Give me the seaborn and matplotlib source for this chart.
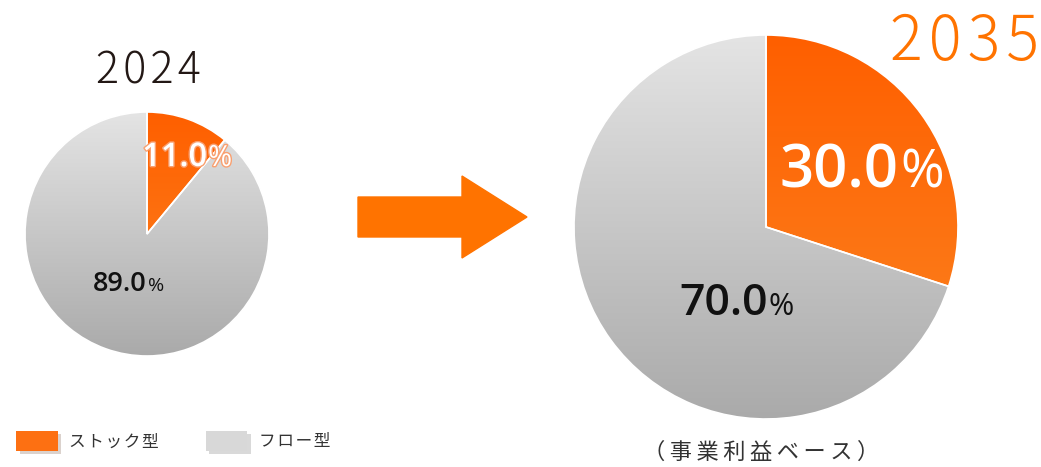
import matplotlib
matplotlib.use("Agg")
import matplotlib.pyplot as plt
import matplotlib.patheffects as pe
from matplotlib.colors import LinearSegmentedColormap
from matplotlib.patches import Patch
import numpy as np
import seaborn as sns

# data
categories = ["ストック型", "フロー型"]
years = ["2024", "2035"]
shares_2024 = [11.0, 89.0]
shares_2035 = [30.0, 70.0]
footnote = "（事業利益ベース）"

sns.set_theme(style="white")
plt.rcParams["font.family"] = ["Open Sans", "Noto Sans CJK JP", "DejaVu Sans"]
JP = ["Noto Sans CJK JP", "DejaVu Sans"]

orange_cmap = LinearSegmentedColormap.from_list("org", ["#ff5f00", "#fb8522"])
gray_cmap = LinearSegmentedColormap.from_list("gry", ["#e4e4e4", "#aaaaaa"])
W, H = 1041, 467


def spaced(s, sep="\u2009"):
    # the original text is letter-spaced
    return sep.join(s)


fig = plt.figure(figsize=(W / 100, H / 100), dpi=100)
ax = fig.add_axes([0, 0, 1, 1])


def draw_pie(values, cx, cy, r):
    cy = H - cy
    wedges, _ = ax.pie(values, startangle=90, counterclock=False,
                       center=(cx, cy), radius=r, frame=True,
                       wedgeprops=dict(facecolor="none", edgecolor="white",
                                       linewidth=1.2, zorder=3))
    grad = np.linspace(0, 1, 256).reshape(-1, 1)
    for w, cmap in zip(wedges, [orange_cmap, gray_cmap]):
        im = ax.imshow(grad, cmap=cmap, extent=(cx - r, cx + r, cy - r, cy + r),
                       origin="upper", aspect="auto", zorder=2)
        im.set_clip_path(w)
    return wedges


def pct_label(val, x, y, size, psize, color, outline=None):
    y = H - y
    num, pct = f"{val:.1f}", "%"
    effects = [pe.withStroke(linewidth=2, foreground=outline)] if outline else None
    ax.text(x, y, num, ha="right", va="baseline", fontsize=size,
            fontweight="semibold", color=color, zorder=5, path_effects=effects)
    ax.text(x + 1, y, pct, ha="left", va="baseline", fontsize=psize,
            color=color, zorder=5, path_effects=effects)


draw_pie(shares_2024, 147, 234, 122)
draw_pie(shares_2035, 766, 227, 192)

pct_label(shares_2024[0], 207, 166, 23.5, 21, "white", outline="#f9a070")
pct_label(shares_2024[1], 147, 291, 19.5, 14, "#111111")
pct_label(shares_2035[0], 899, 188, 43, 38, "white")
pct_label(shares_2035[1], 768, 315, 32, 22, "#111111")

# arrow between the pies
ax.arrow(358, H - 217, 169, 0, width=40, head_width=82, head_length=65,
         length_includes_head=True, color="#ff7300", zorder=2)

# year titles
ax.text(148, H - 83, spaced(years[0], "\u200a"), ha="center", va="baseline",
        fontsize=31, color="#231815", family=JP, fontweight="light")
ax.text(965, H - 60, spaced(years[1], "\u200a"), ha="center", va="baseline",
        fontsize=44, color="#ff7300", family=JP, fontweight="light")

# footnote
ax.text(761, H - 452, spaced(footnote), ha="center", va="center", fontsize=16,
        color="#333333", family=JP)

# legend
shadow = [pe.SimplePatchShadow(offset=(2.5, -2.5), alpha=0.2), pe.Normal()]
handles = [Patch(facecolor=c, edgecolor="none", path_effects=shadow)
           for c in ["#fd7012", "#d8d8d8"]]
leg = ax.legend(handles, [spaced(c, "\u200a") for c in categories],
                loc="lower left", bbox_to_anchor=(0.009, 0.02),
                ncol=2, frameon=False, handlelength=2.5, handleheight=1.5,
                handletextpad=0.7, columnspacing=2.8, borderaxespad=0,
                prop={"family": JP, "size": 12})
for t in leg.get_texts():
    t.set_color("#333333")

ax.set_xlim(0, W)
ax.set_ylim(0, H)
ax.set_aspect("auto")
ax.axis("off")

fig.savefig("out.png", dpi=100)
